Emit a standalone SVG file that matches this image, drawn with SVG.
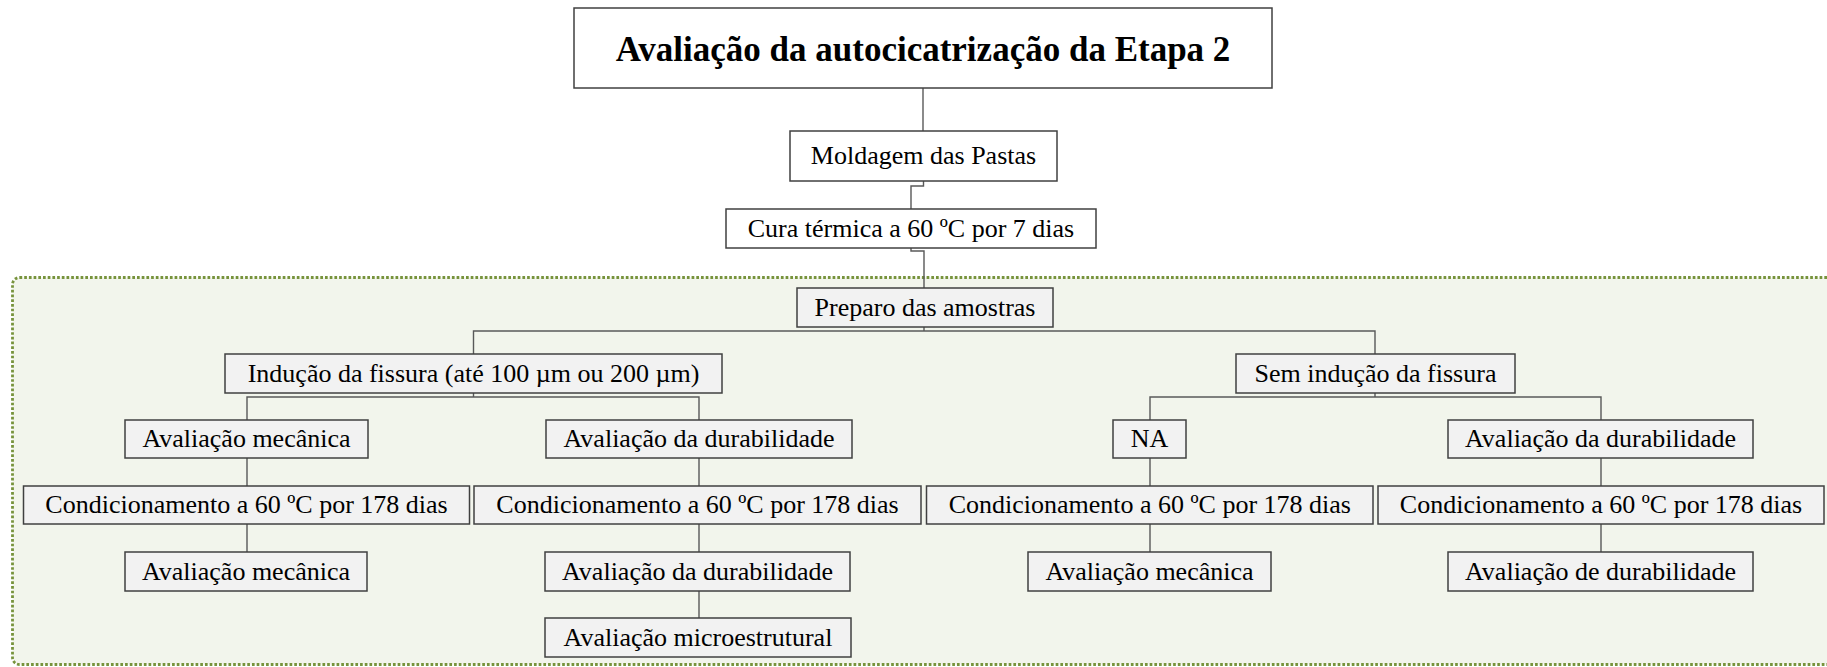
<svg xmlns="http://www.w3.org/2000/svg" width="1827" height="667" viewBox="0 0 1827 667">
<style>
.b{fill:#F2F2F2;stroke:#404040;stroke-width:1.5}
.w{fill:#FFFFFF;stroke:#404040;stroke-width:1.5}
.c{fill:none;stroke:#595959;stroke-width:1.4}
.t{font-family:'Liberation Serif','Times New Roman',serif;font-size:26px;text-anchor:middle;fill:#000}
.tt{font-family:'Liberation Serif','Times New Roman',serif;font-size:35px;font-weight:bold;text-anchor:middle;fill:#000}
</style>
<rect id="area" x="12.5" y="277.5" width="1840" height="387" rx="7" fill="#F2F5EC" stroke="#77933C" stroke-width="2.8" stroke-dasharray="2.7 2"/>
<g id="connectors">
<path class="c" d="M923,88 V131"/>
<path class="c" d="M923.5,181 V186 H911 V209"/>
<path class="c" d="M911,248 V251 H924 V288"/>
<path class="c" d="M924,327 V331 M473.5,354 V331 H1375 V354"/>
<path class="c" d="M473.5,393 V397 M247,420 V397 H699 V420"/>
<path class="c" d="M1375,393 V397 M1150,420 V397 H1601 V420"/>
<path class="c" d="M247,458 V486 M699,458 V486 M1150,458 V486 M1601,458 V486"/>
<path class="c" d="M247,524 V552 M699,524 V552 M1150,524 V552 M1601,524 V552"/>
<path class="c" d="M699,591 V618"/>
</g>
<g id="title"><rect class="w" x="574" y="8" width="698" height="80"/><text class="tt" x="923" y="61">Avaliação da autocicatrização da Etapa 2</text></g>
<g id="moldagem"><rect class="w" x="790" y="131" width="267" height="50"/><text class="t" x="923.5" y="164">Moldagem das Pastas</text></g>
<g id="cura"><rect class="w" x="726" y="209" width="370" height="39"/><text class="t" x="911" y="237">Cura térmica a 60 ºC por 7 dias</text></g>
<g id="preparo"><rect class="b" x="797" y="288" width="256" height="39"/><text class="t" x="925" y="316">Preparo das amostras</text></g>
<g id="inducao"><rect class="b" x="225" y="354" width="497" height="39"/><text class="t" x="473.5" y="382">Indução da fissura (até 100 µm ou 200 µm)</text></g>
<g id="sem-inducao"><rect class="b" x="1236" y="354" width="279" height="39"/><text class="t" x="1375.5" y="382">Sem indução da fissura</text></g>
<g id="av-mec-1"><rect class="b" x="125" y="420" width="243" height="38"/><text class="t" x="246.5" y="447">Avaliação mecânica</text></g>
<g id="av-dur-1"><rect class="b" x="546" y="420" width="306" height="38"/><text class="t" x="699" y="447">Avaliação da durabilidade</text></g>
<g id="na"><rect class="b" x="1113" y="420" width="73" height="38"/><text class="t" x="1149.5" y="447">NA</text></g>
<g id="av-dur-2"><rect class="b" x="1448" y="420" width="305" height="38"/><text class="t" x="1600.5" y="447">Avaliação da durabilidade</text></g>
<g id="cond-1"><rect class="b" x="23.5" y="486" width="446" height="38"/><text class="t" x="246.5" y="513">Condicionamento a 60 ºC por 178 dias</text></g>
<g id="cond-2"><rect class="b" x="474" y="486" width="447" height="38"/><text class="t" x="697.5" y="513">Condicionamento a 60 ºC por 178 dias</text></g>
<g id="cond-3"><rect class="b" x="926.5" y="486" width="446.5" height="38"/><text class="t" x="1149.8" y="513">Condicionamento a 60 ºC por 178 dias</text></g>
<g id="cond-4"><rect class="b" x="1378" y="486" width="446" height="38"/><text class="t" x="1601" y="513">Condicionamento a 60 ºC por 178 dias</text></g>
<g id="av-mec-2"><rect class="b" x="125" y="552" width="242" height="39"/><text class="t" x="246" y="580">Avaliação mecânica</text></g>
<g id="av-dur-3"><rect class="b" x="545" y="552" width="305" height="39"/><text class="t" x="697.5" y="580">Avaliação da durabilidade</text></g>
<g id="av-mec-3"><rect class="b" x="1028" y="552" width="243" height="39"/><text class="t" x="1149.5" y="580">Avaliação mecânica</text></g>
<g id="av-de-dur"><rect class="b" x="1448" y="552" width="305" height="39"/><text class="t" x="1600.5" y="580">Avaliação de durabilidade</text></g>
<g id="av-micro"><rect class="b" x="545" y="618" width="306" height="39"/><text class="t" x="698" y="646">Avaliação microestrutural</text></g>
</svg>
